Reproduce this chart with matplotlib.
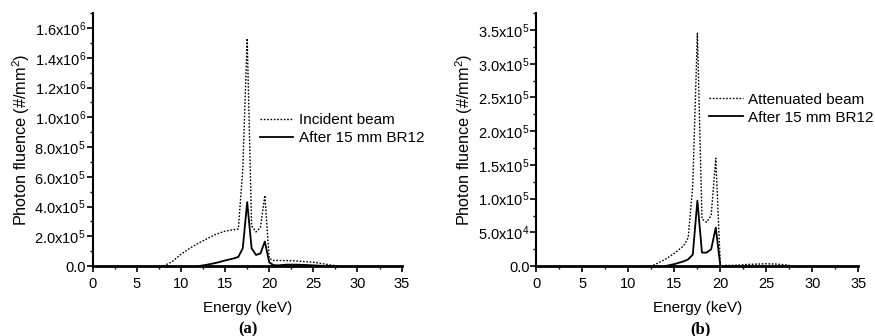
import matplotlib.pyplot as plt
from matplotlib.ticker import MultipleLocator

plt.rcParams['font.family'] = ['Liberation Sans', 'DejaVu Sans']
plt.rcParams['mathtext.fontset'] = 'custom'
plt.rcParams['mathtext.rm'] = 'Liberation Sans'
plt.rcParams['mathtext.it'] = 'Liberation Sans'

# (a) incident beam vs after BR12
energy_a = [8, 9, 10, 11, 12, 13, 14, 15, 16, 16.5, 17, 17.5, 18, 18.5, 19, 19.5,
            20, 20.5, 21, 22, 23, 24, 25, 26, 27, 28]
incident = [0, 0.3e5, 0.8e5, 1.2e5, 1.55e5, 1.85e5, 2.15e5, 2.35e5, 2.45e5, 2.5e5,
            6.5e5, 15.3e5, 2.7e5, 2.3e5, 2.6e5, 4.75e5,
            0.5e5, 0.38e5, 0.38e5, 0.37e5, 0.35e5, 0.3e5, 0.26e5, 0.17e5, 0.07e5, 0]
energy_a2 = [12, 13, 14, 15, 16, 16.5, 17, 17.5, 18, 18.5, 19, 19.5, 20, 20.5, 21,
             22, 23, 24, 25, 26, 27]
after_a = [0, 0.1e5, 0.22e5, 0.38e5, 0.52e5, 0.62e5, 1.2e5, 4.3e5, 1.2e5, 0.75e5,
           0.85e5, 1.65e5, 0.25e5, 0.06e5, 0.05e5, 0.1e5, 0.1e5, 0.08e5, 0.05e5,
           0.02e5, 0]

# (b) attenuated beam vs after BR12
energy_b = [12, 12.5, 13, 14, 15, 16, 16.5, 17, 17.5, 18, 18.5, 19, 19.5, 20, 20.5,
            21, 22, 23, 24, 25, 26, 27, 28]
attenuated = [0, 0, 0.03e5, 0.1e5, 0.19e5, 0.3e5, 0.42e5, 1.2e5, 3.45e5, 0.7e5,
              0.65e5, 0.75e5, 1.6e5, 0, 0.01e5, 0.01e5, 0.015e5, 0.025e5, 0.03e5,
              0.035e5, 0.03e5, 0.02e5, 0]
energy_b2 = [14, 15, 16, 16.5, 17, 17.5, 18, 18.5, 19, 19.5, 20]
after_b = [0, 0.03e5, 0.07e5, 0.1e5, 0.17e5, 0.97e5, 0.2e5, 0.2e5, 0.25e5, 0.57e5, 0]

yticks_a = [0, 2e5, 4e5, 6e5, 8e5, 10e5, 12e5, 14e5, 16e5]
ylabels_a = ['0.0', r'2.0x10$^5$', r'4.0x10$^5$', r'6.0x10$^5$', r'8.0x10$^5$',
             r'1.0x10$^6$', r'1.2x10$^6$', r'1.4x10$^6$', r'1.6x10$^6$']
yticks_b = [0, 0.5e5, 1e5, 1.5e5, 2e5, 2.5e5, 3e5, 3.5e5]
ylabels_b = ['0.0', r'5.0x10$^4$', r'1.0x10$^5$', r'1.5x10$^5$', r'2.0x10$^5$',
             r'2.5x10$^5$', r'3.0x10$^5$', r'3.5x10$^5$']

fig = plt.figure(figsize=(8.75, 3.36), dpi=100)
ax1 = fig.add_axes([0.106, 0.208, 0.353, 0.753])
ax2 = fig.add_axes([0.613, 0.208, 0.368, 0.753])


def style_axis(ax, ymax, yticks, ylabels, minor_y):
    ax.set_xlim(0, 35)
    ax.set_ylim(0, ymax)
    ax.spines['top'].set_visible(False)
    ax.spines['right'].set_visible(False)
    ax.spines['left'].set_linewidth(1.5)
    ax.spines['bottom'].set_linewidth(2)
    ax.xaxis.set_major_locator(MultipleLocator(5))
    ax.xaxis.set_minor_locator(MultipleLocator(2.5))
    ax.yaxis.set_minor_locator(MultipleLocator(minor_y))
    ax.set_yticks(yticks)
    ax.set_yticklabels(ylabels)
    ax.tick_params(which='major', direction='out', length=4, width=1.2, labelsize=10.5)
    ax.tick_params(axis='x', which='major', pad=4)
    ax.tick_params(axis='y', which='major', pad=1)
    ax.tick_params(which='minor', direction='out', length=2.5, width=1)
    ax.set_xlabel('Energy (keV)', fontsize=11, labelpad=7)
    ax.set_ylabel('Photon fluence (#/mm$^2$)', fontsize=11.7, labelpad=2)


leg_kw = dict(loc='upper left', frameon=False, fontsize=11, handlelength=2.2,
              handletextpad=0.35, labelspacing=0.25, borderaxespad=0, borderpad=0)

ax1.plot(energy_a, incident, color='black', linestyle=(0, (1.2, 1.2)), linewidth=1,
         label='Incident beam')
ax1.plot(energy_a2, after_a, color='black', linestyle='-', linewidth=1.3,
         label='After 15 mm BR12')
style_axis(ax1, 1.7e6, yticks_a, ylabels_a, 1e5)
ax1.legend(bbox_to_anchor=(0.54, 0.605), **leg_kw)

ax2.plot(energy_b, attenuated, color='black', linestyle=(0, (1.2, 1.2)), linewidth=1,
         label='Attenuated beam')
ax2.plot(energy_b2, after_b, color='black', linestyle='-', linewidth=1.3,
         label='After 15 mm BR12')
style_axis(ax2, 3.75e5, yticks_b, ylabels_b, 0.25e5)
ax2.legend(bbox_to_anchor=(0.537, 0.685), **leg_kw)

fig.text(248 / 875, 1 - 329 / 336, '(a)', family='Liberation Serif', fontweight='bold',
         fontsize=12, ha='center', va='center')
fig.text(700 / 875, 1 - 329 / 336, '(b)', family='Liberation Serif', fontweight='bold',
         fontsize=12, ha='center', va='center')

fig.savefig('out.png', dpi=100)
